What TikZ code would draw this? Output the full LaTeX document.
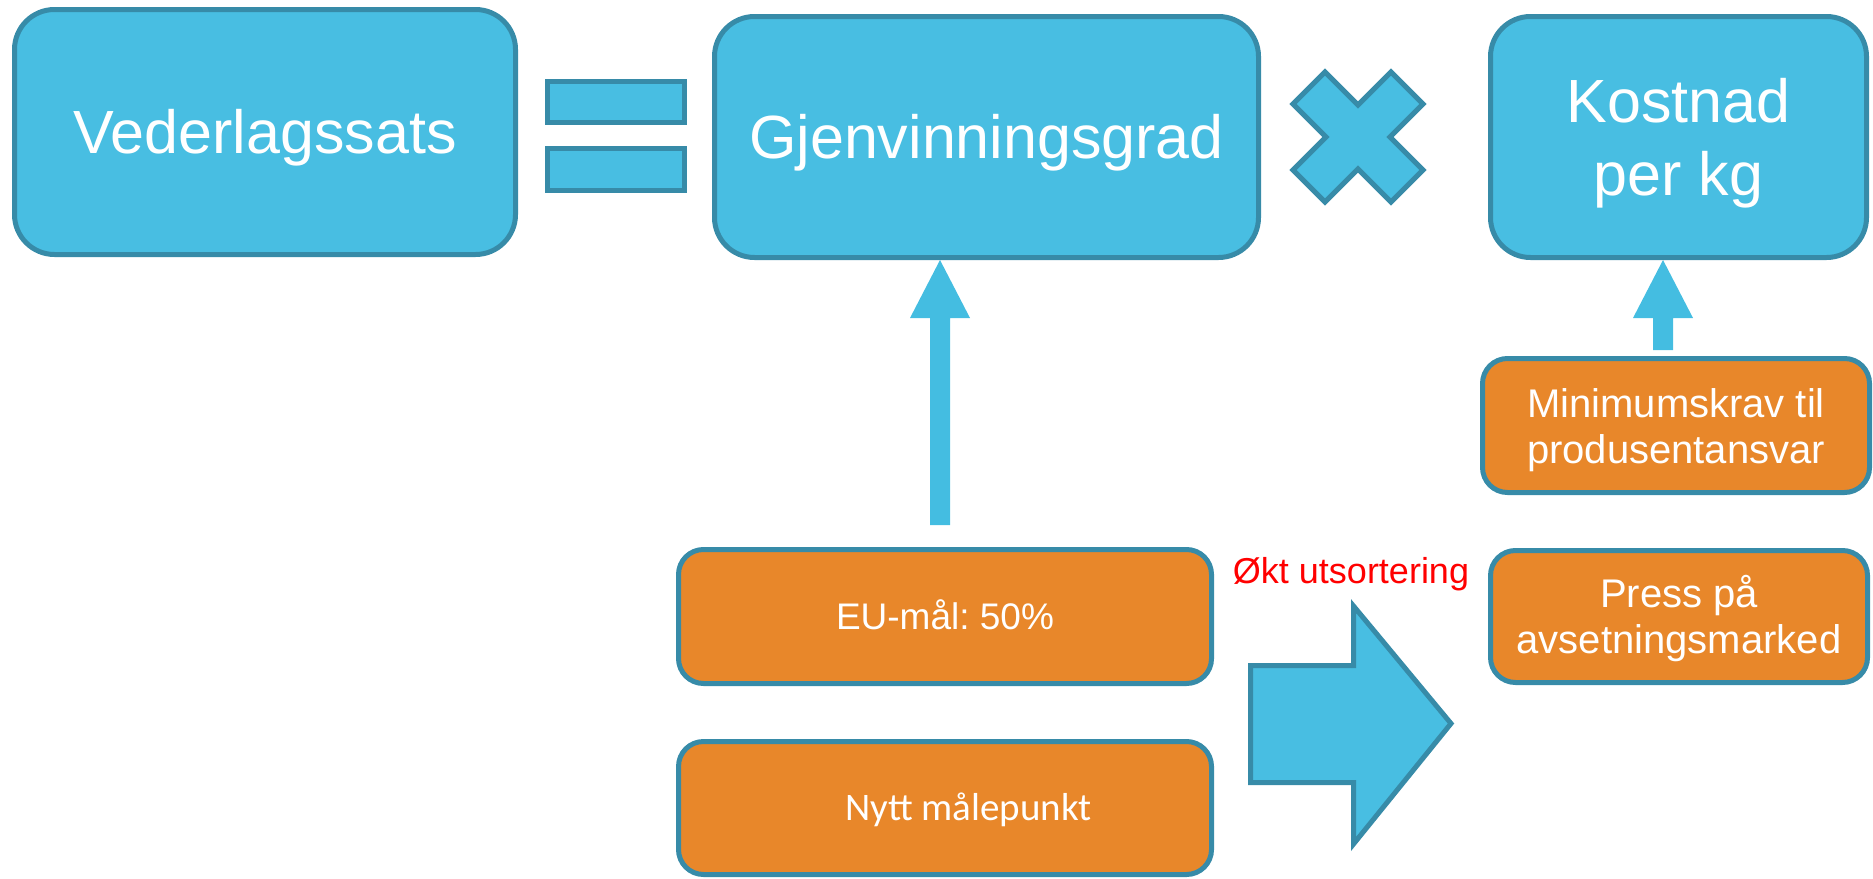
\documentclass[tikz,border=0pt]{standalone}
\usepackage{fontspec}
\setmainfont{Liberation Sans}
\newfontfamily\calibrifont{Carlito}
\usetikzlibrary{calc}
\frenchspacing
\definecolor{boxblue}{RGB}{72,190,226}
\definecolor{edgeblue}{RGB}{55,139,168}
\definecolor{boxorange}{RGB}{232,135,42}
\definecolor{arrowblue}{RGB}{68,189,225}
\definecolor{okred}{RGB}{255,0,0}
\begin{document}
\begin{tikzpicture}[x=1pt,y=-1pt,
  bluebox/.style={draw=edgeblue, fill=boxblue, line width=5pt, rounded corners=40pt,
    text=white, inner sep=0pt, align=center},
  orangebox/.style={draw=edgeblue, fill=boxorange, line width=5pt, rounded corners=25pt,
    text=white, inner sep=0pt, align=center},
  shapeblue/.style={draw=edgeblue, fill=boxblue, line width=5pt, miter limit=20},
  bigtext/.style={font=\fontsize{61}{73}\selectfont},
  midtext/.style={font=\fontsize{40}{46}\selectfont},
  thinarrow/.style={fill=arrowblue, draw=none},
  redlabel/.style={text=okred, font=\fontsize{36}{43}\selectfont, inner sep=0pt, anchor=base}
]
\useasboundingbox (0,0) rectangle (1873,878);

% top row
\node[bluebox, bigtext, minimum width=501pt, minimum height=245pt,
      text height=43.7pt, text depth=0pt] (ved) at (265,132) {Vederlagssats};
\node[bluebox, bigtext, minimum width=544pt, minimum height=241pt,
      text height=43.7pt, text depth=0pt] (gjen) at (986.5,137) {Gjenvinningsgrad};
\node[bluebox, bigtext, minimum width=376pt, minimum height=241pt,
      text height=116.7pt, text depth=0pt] (kost) at (1678.5,137) {Kostnad\\per kg};

% equals sign
\node[shapeblue, rectangle, inner sep=0pt, minimum width=137pt, minimum height=41pt] (eqA) at (616,102) {};
\node[shapeblue, rectangle, inner sep=0pt, minimum width=137pt, minimum height=42pt] (eqB) at (616,169.5) {};

% multiplication sign
\coordinate (xc) at (1358,137);
\draw[shapeblue] ($(xc)+(0,-32)$) -- ($(xc)+(33,-65)$) -- ($(xc)+(65,-33)$) -- ($(xc)+(32,0)$)
  -- ($(xc)+(65,33)$) -- ($(xc)+(33,65)$) -- ($(xc)+(0,32)$) -- ($(xc)+(-33,65)$)
  -- ($(xc)+(-65,33)$) -- ($(xc)+(-32,0)$) -- ($(xc)+(-65,-33)$) -- ($(xc)+(-33,-65)$) -- cycle;

% lower boxes
\node[orangebox, midtext, minimum width=387pt, minimum height=134pt,
      text height=75pt, text depth=0pt] (mini) at (1676,425.5) {Minimumskrav til\\produsentansvar};
\node[orangebox, midtext, minimum width=377pt, minimum height=132pt,
      text height=74pt, text depth=0pt] (press) at (1679,616.5) {Press på\\avsetningsmarked};
\node[orangebox, font=\fontsize{37}{44}\selectfont, minimum width=533pt, minimum height=134pt,
      text height=26.5pt, text depth=0pt] (eu) at (945,616.5) {EU-mål: 50\%};
\node[orangebox, font=\calibrifont\fontsize{39}{47}\selectfont, minimum width=533pt, minimum height=133pt,
      text height=25pt, text depth=0pt] (nytt) at (945,808) {\hspace*{47pt}Nytt målepunkt};

% thin arrows
\coordinate (a1s) at (940,525);
\coordinate (a1t) at (gjen.south -| a1s);
\fill[thinarrow] ($(a1s)+(-10,0)$) -- ($(a1t)+(-10,58)$) -- ($(a1t)+(-30,58)$) -- (a1t)
  -- ($(a1t)+(30,58)$) -- ($(a1t)+(10,58)$) -- ($(a1s)+(10,0)$) -- cycle;
\coordinate (a2s) at (1663,350);
\coordinate (a2t) at (kost.south -| a2s);
\fill[thinarrow] ($(a2s)+(-10,0)$) -- ($(a2t)+(-10,58)$) -- ($(a2t)+(-30,58)$) -- (a2t)
  -- ($(a2t)+(30,58)$) -- ($(a2t)+(10,58)$) -- ($(a2s)+(10,0)$) -- cycle;

% big arrow
\draw[shapeblue] (1250.5,665.5) -- (1353.5,665.5) -- (1353.5,606) -- (1451,723.5)
  -- (1353.5,844) -- (1353.5,782.5) -- (1250.5,782.5) -- cycle;
\node[redlabel] (okt) at (1351,583) {Økt utsortering};
\end{tikzpicture}
\end{document}
